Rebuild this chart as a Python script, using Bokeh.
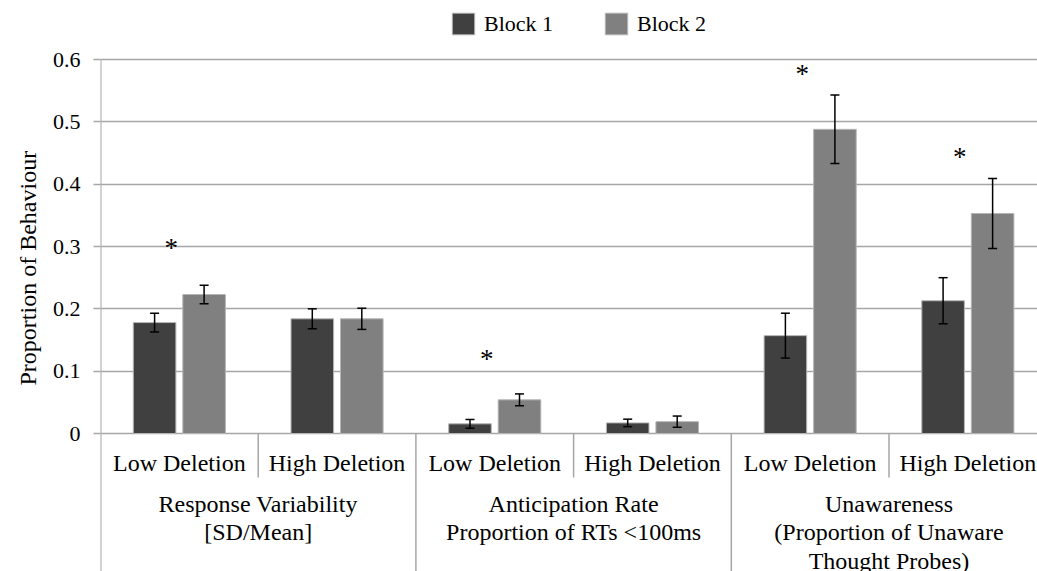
import math
from bokeh.plotting import figure
from bokeh.models import (ColumnDataSource, FixedTicker, Range1d, Whisker, TeeHead,
                          Legend, LegendItem, Title)
from bokeh.core.properties import value
from bokeh.embed import file_html
from bokeh.resources import INLINE

# ---- data ----
groups = ["Response Variability\n[SD/Mean]",
          "Anticipation Rate\nProportion of RTs <100ms",
          "Unawareness\n(Proportion of Unaware\nThought Probes)"]
conditions = ["Low Deletion", "High Deletion"]
block1 = [0.178, 0.184, 0.0155, 0.017, 0.157, 0.213]
block1_err = [0.015, 0.016, 0.007, 0.006, 0.036, 0.037]
block2 = [0.223, 0.184, 0.054, 0.019, 0.488, 0.353]
block2_err = [0.015, 0.017, 0.0095, 0.009, 0.055, 0.056]
significant = [True, False, True, False, True, True]
star_y = [0.297, None, 0.120, None, 0.576, 0.443]
y_ticks = [0, 0.1, 0.2, 0.3, 0.4, 0.5, 0.6]
series_names = ["Block 1", "Block 2"]
y_title = "Proportion of Behaviour"

FONT = "Liberation Serif"
C1, C2 = "#404040", "#808080"
GRID = "#a6a6a6"

W, H = 1037, 571
LEFT = 100
PX_PER_CAT = 157.7
PX_PER_UNIT = 623.3
y0_canvas = 433  # canvas y of value 0
x_end = (W - LEFT) / PX_PER_CAT
y_top = y0_canvas / PX_PER_UNIT
y_bot = -(H - y0_canvas) / PX_PER_UNIT

p = figure(width=W, height=H, output_backend="svg", toolbar_location=None,
           x_range=Range1d(0, x_end), y_range=Range1d(y_bot, y_top),
           min_border_left=LEFT, min_border_right=0, min_border_top=0,
           min_border_bottom=0)
p.outline_line_color = None
p.xaxis.visible = False
p.xgrid.visible = False
p.background_fill_color = "white"
p.border_fill_color = "white"

# y axis
p.yaxis.ticker = FixedTicker(ticks=y_ticks)
p.yaxis.axis_line_color = None
p.yaxis.major_tick_line_color = GRID
p.yaxis.major_tick_line_width = 1.5
p.yaxis.major_tick_out = 7
p.yaxis.major_tick_in = 0
p.yaxis.minor_tick_line_color = None
p.yaxis.major_label_standoff = 13
p.yaxis.major_label_text_font = FONT
p.yaxis.major_label_text_font_size = "22px"
p.yaxis.major_label_text_color = "#000000"
p.yaxis.major_label_overrides = {t: ("0" if t == 0 else f"{t:.1f}") for t in y_ticks}
p.ygrid.ticker = FixedTicker(ticks=y_ticks)
p.ygrid.grid_line_color = GRID
p.ygrid.grid_line_width = 1.5

n = len(block1)
xc = [i + 0.5 for i in range(n)]
off, bw = 0.157, 0.27
x1 = [x - off for x in xc]
x2 = [x + off for x in xc]

src1 = ColumnDataSource(dict(x=x1, top=block1,
                             lo=[v - e for v, e in zip(block1, block1_err)],
                             hi=[v + e for v, e in zip(block1, block1_err)]))
src2 = ColumnDataSource(dict(x=x2, top=block2,
                             lo=[v - e for v, e in zip(block2, block2_err)],
                             hi=[v + e for v, e in zip(block2, block2_err)]))

r1 = p.vbar(x="x", top="top", bottom=0, width=bw, source=src1,
            fill_color=C1, line_color="#b5b5b5", line_width=1)
r2 = p.vbar(x="x", top="top", bottom=0, width=bw, source=src2,
            fill_color=C2, line_color="#b5b5b5", line_width=1)

for s in (src1, src2):
    w = Whisker(base="x", upper="hi", lower="lo", source=s, level="overlay",
                line_color="black", line_width=1.5,
                upper_head=TeeHead(size=9, line_color="black", line_width=1.5),
                lower_head=TeeHead(size=9, line_color="black", line_width=1.5))
    p.add_layout(w)

# y-axis line from 0.6 down to bottom
p.segment(x0=[0], y0=[y_ticks[-1]], x1=[0], y1=[y_bot], line_color=GRID, line_width=2)

# category separators
sub_bottom = -44 / PX_PER_UNIT
sep_x = list(range(1, n + 1))
sep_y1 = [sub_bottom if (k % 2 == 1) else y_bot for k in sep_x]
p.segment(x0=sep_x, y0=[0] * len(sep_x), x1=sep_x, y1=sep_y1,
          line_color=GRID, line_width=1.5)

# sub-category labels
sub_labels = [conditions[i % 2] for i in range(n)]
p.text(x=xc, y=[-29 / PX_PER_UNIT] * n, text=sub_labels,
       text_font=value(FONT), text_font_size="24px", text_align="center",
       text_baseline="middle", text_color="black")

# group labels
gx = [2 * g + 1 for g in range(len(groups))]
p.text(x=gx, y=[-57 / PX_PER_UNIT] * len(groups), text=groups,
       text_font=value(FONT), text_font_size="24px", text_align="center",
       text_baseline="top", text_color="black", text_line_height=1.1)

# significance asterisks
sx = [xc[i] - 8 / PX_PER_CAT for i in range(n) if significant[i]]
sy = [star_y[i] for i in range(n) if significant[i]]
p.text(x=sx, y=sy, text=["*"] * len(sx), text_font=value(FONT),
       text_font_size="27px", text_align="center",
       text_baseline="middle", text_color="black")

# legend
legend = Legend(items=[LegendItem(label=series_names[0], renderers=[r1]),
                       LegendItem(label=series_names[1], renderers=[r2])],
                orientation="horizontal", location=(349, 534),
                glyph_width=28, glyph_height=27, label_height=27,
                label_standoff=7, spacing=49, margin=0, padding=0,
                border_line_color=None, background_fill_alpha=0,
                label_text_font=FONT, label_text_font_size="22px",
                label_text_color="black")
p.add_layout(legend)

# y axis title
p.add_layout(Title(text=y_title, align="left", offset=186, text_font=FONT,
                   text_font_size="24px", text_font_style="normal",
                   text_color="black", standoff=18), "left")

open("out.html", "w").write(file_html(p, INLINE))
